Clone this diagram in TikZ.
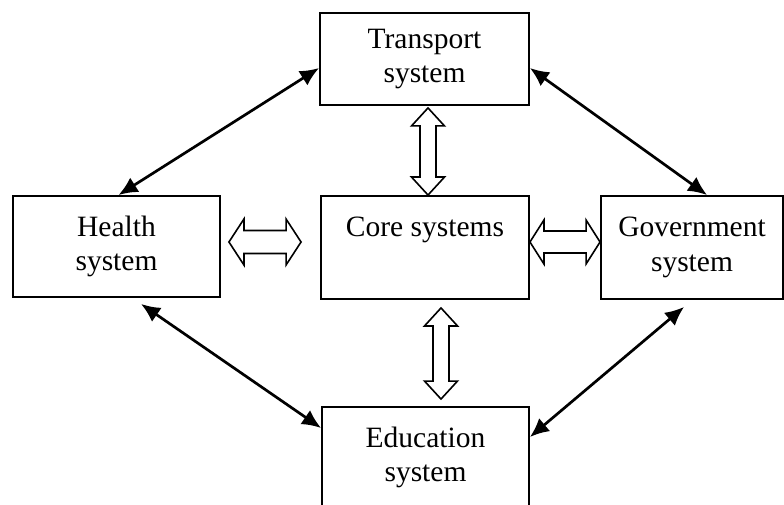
\documentclass[tikz,border=0pt]{standalone}
\usepackage{fontspec}
\setmainfont{Liberation Serif}
\usetikzlibrary{arrows.meta,calc}
% hollow double block arrow between two named points: #1=A, #2=B, #3=head length, #4=head half width, #5=shaft half width
\newcommand\hollowarrow[5]{%
  \path[blk] (#1)
    -- ($(#1)!#3!(#2)!#4!90:(#2)$)
    -- ($(#1)!#3!(#2)!#5!90:(#2)$)
    -- ($(#2)!#3!(#1)!#5!-90:(#1)$)
    -- ($(#2)!#3!(#1)!#4!-90:(#1)$)
    -- (#2)
    -- ($(#2)!#3!(#1)!#4!90:(#1)$)
    -- ($(#2)!#3!(#1)!#5!90:(#1)$)
    -- ($(#1)!#3!(#2)!#5!-90:(#2)$)
    -- ($(#1)!#3!(#2)!#4!-90:(#2)$)
    -- cycle;}
\begin{document}
\begin{tikzpicture}[x=1pt,y=-1pt,
  box/.style={draw,line width=1.9pt,rectangle,align=center,inner sep=0pt,
    font=\fontsize{29.5}{34.5}\selectfont},
  dbl/.style={line width=2.7pt,{Latex[length=19pt,width=17pt]}-{Latex[length=19pt,width=17pt]}},
  blk/.style={draw,line width=1.6pt,fill=white,line join=miter}]
\useasboundingbox (0,0) rectangle (784,505);
\clip (0,0) rectangle (784,505);

\node[box,minimum width=209pt,minimum height=92pt] (transport) at (424.5,59) {Transport\\system};
\node[box,minimum width=207pt,minimum height=101pt] (health) at (116.5,246.5) {Health\\system};
\node[box,minimum width=208pt,minimum height=103pt] (core) at (425,247.5) {Core systems\\\vphantom{y}};
\node[box,minimum width=182pt,minimum height=103pt] (gov) at (692,247.5) {Government\\system};
\node[box,minimum width=207pt,minimum height=101pt] (edu) at (425.5,457.5) {Education\\system};

% thin double-headed connectors
\draw[dbl] ([xshift=106.5pt]health.north west) -- ([yshift=-9pt]transport.west);
\draw[dbl] ([yshift=-9pt]transport.east) -- ([xshift=107pt]gov.north west);
\draw[dbl] ([xshift=129pt,yshift=-6pt]health.south west) -- ([yshift=29.5pt]edu.west);
\draw[dbl] ([xshift=84pt,yshift=-7pt]gov.south west) -- ([yshift=20.5pt]edu.east);

% hollow block arrows
\coordinate (tc1) at ([xshift=3.5pt,yshift=-2pt]transport.south);
\coordinate (tc2) at ([xshift=3pt]core.north);
\hollowarrow{tc1}{tc2}{18pt}{16.5pt}{8pt}
\coordinate (ce1) at ([xshift=16pt,yshift=-8pt]core.south);
\coordinate (ce2) at ([xshift=15.5pt,yshift=7pt]edu.north);
\hollowarrow{ce1}{ce2}{18pt}{16.5pt}{8pt}
\coordinate (hc1) at ([xshift=8pt,yshift=4.5pt]health.east);
\coordinate (hc2) at ([xshift=-19pt,yshift=5.5pt]core.west);
\hollowarrow{hc1}{hc2}{15pt}{23pt}{11.5pt}
\coordinate (cg1) at ([yshift=5.5pt]core.east);
\coordinate (cg2) at ([yshift=5.5pt]gov.west);
\hollowarrow{cg1}{cg2}{14pt}{22pt}{11pt}
\end{tikzpicture}
\end{document}
